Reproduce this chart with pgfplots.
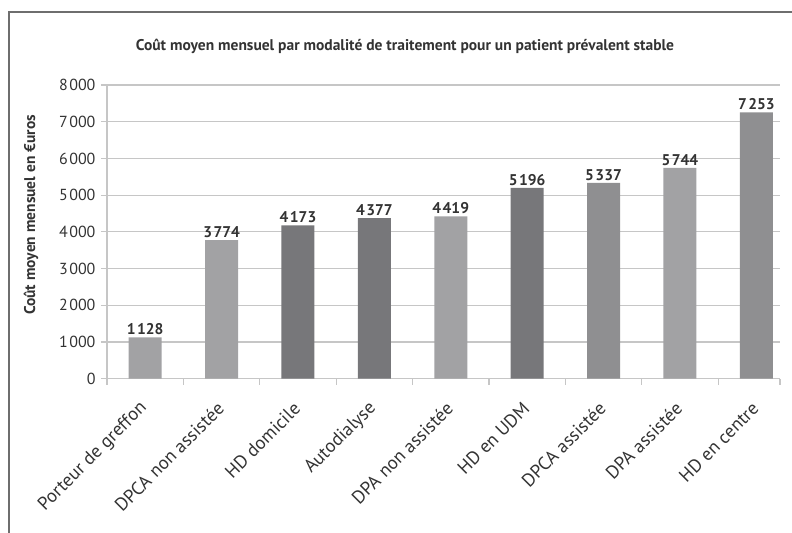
\documentclass[border=0pt]{standalone}
\usepackage{fontspec}
\setmainfont{PT Sans}
\usepackage{pgfplots}
\pgfplotsset{compat=1.18}
\definecolor{lightbar}{HTML}{A2A2A4}
\definecolor{darkbar}{HTML}{77777A}
\definecolor{midbar}{HTML}{8F8F91}
\definecolor{gridc}{HTML}{C6C6C6}
\definecolor{framec}{HTML}{6E6E6E}
\definecolor{txt}{HTML}{333333}
\pgfplotstableread{
x y
0 1128
1 3774
4 4419
7 5744
}\lightdata
\pgfplotstableread{
x y
2 4173
3 4377
5 5196
}\darkdata
\pgfplotstableread{
x y
6 5337
8 7253
}\middata
\begin{document}
\begin{tikzpicture}
\path[use as bounding box] (0bp,0bp) rectangle (792bp,533bp);
\draw[framec, line width=1.8bp] (9bp,0bp) -- (9bp,521bp) -- (792bp,521bp);
\begin{axis}[
  at={(107bp,154.3bp)}, anchor=south west,
  scale only axis, width=673bp, height=293.7bp,
  xmin=-0.5, xmax=8.31, ymin=0, ymax=8000,
  axis lines=left,
  x axis line style={-, draw=gridc, line width=1.2bp},
  y axis line style={-, draw=gridc, line width=1.2bp},
  ytick={0,1000,...,8000},
  ymajorgrids, grid style={draw=gridc, line width=1.2bp},
  tick align=outside,
  major tick length=6bp, minor tick length=6bp,
  tick style={draw=gridc, line width=1.2bp},
  xtick={0,...,8},
  major x tick style={draw=none},
  minor xtick={-0.5,0.5,1.5,2.5,3.5,4.5,5.5,6.5,7.5,8.31},
  xticklabels={Porteur de greffon,DPCA non assistée,HD domicile,Autodialyse,DPA non assistée,HD en UDM,DPCA assistée,DPA assistée,HD en centre},
  xticklabel style={rotate=45, anchor=east, font=\fontsize{18.5bp}{20bp}\selectfont, text=txt, yshift=-14bp, xshift=-12bp},
  yticklabel style={font=\fontsize{16bp}{18bp}\selectfont, text=txt, xshift=-2bp},
  /pgf/number format/assume math mode=true,
  /pgf/number format/1000 sep={\kern1.5bp},
  scaled y ticks=false,
  ybar, bar width=33bp, bar shift=0pt,
  nodes near coords,
  every node near coord/.append style={font=\bfseries\fontsize{15.5bp}{17bp}\selectfont, text=txt, /pgf/number format/1000 sep={\kern1.5bp}, /pgf/number format/assume math mode=true, yshift=-1bp},
  clip=false,
]
\addplot[fill=lightbar, draw=none] table[x=x,y=y] {\lightdata};
\addplot[fill=darkbar, draw=none] table[x=x,y=y] {\darkdata};
\addplot[fill=midbar, draw=none] table[x=x,y=y] {\middata};
\end{axis}
\node[font=\bfseries\fontsize{15.5bp}{17bp}\selectfont, text=txt] at (405bp,487bp) {Coût moyen mensuel par modalité de traitement pour un patient prévalent stable};
\node[font=\bfseries\fontsize{15.5bp}{17bp}\selectfont, text=txt, rotate=90] at (31bp,318bp) {Coût moyen mensuel en €uros};
\end{tikzpicture}
\end{document}
